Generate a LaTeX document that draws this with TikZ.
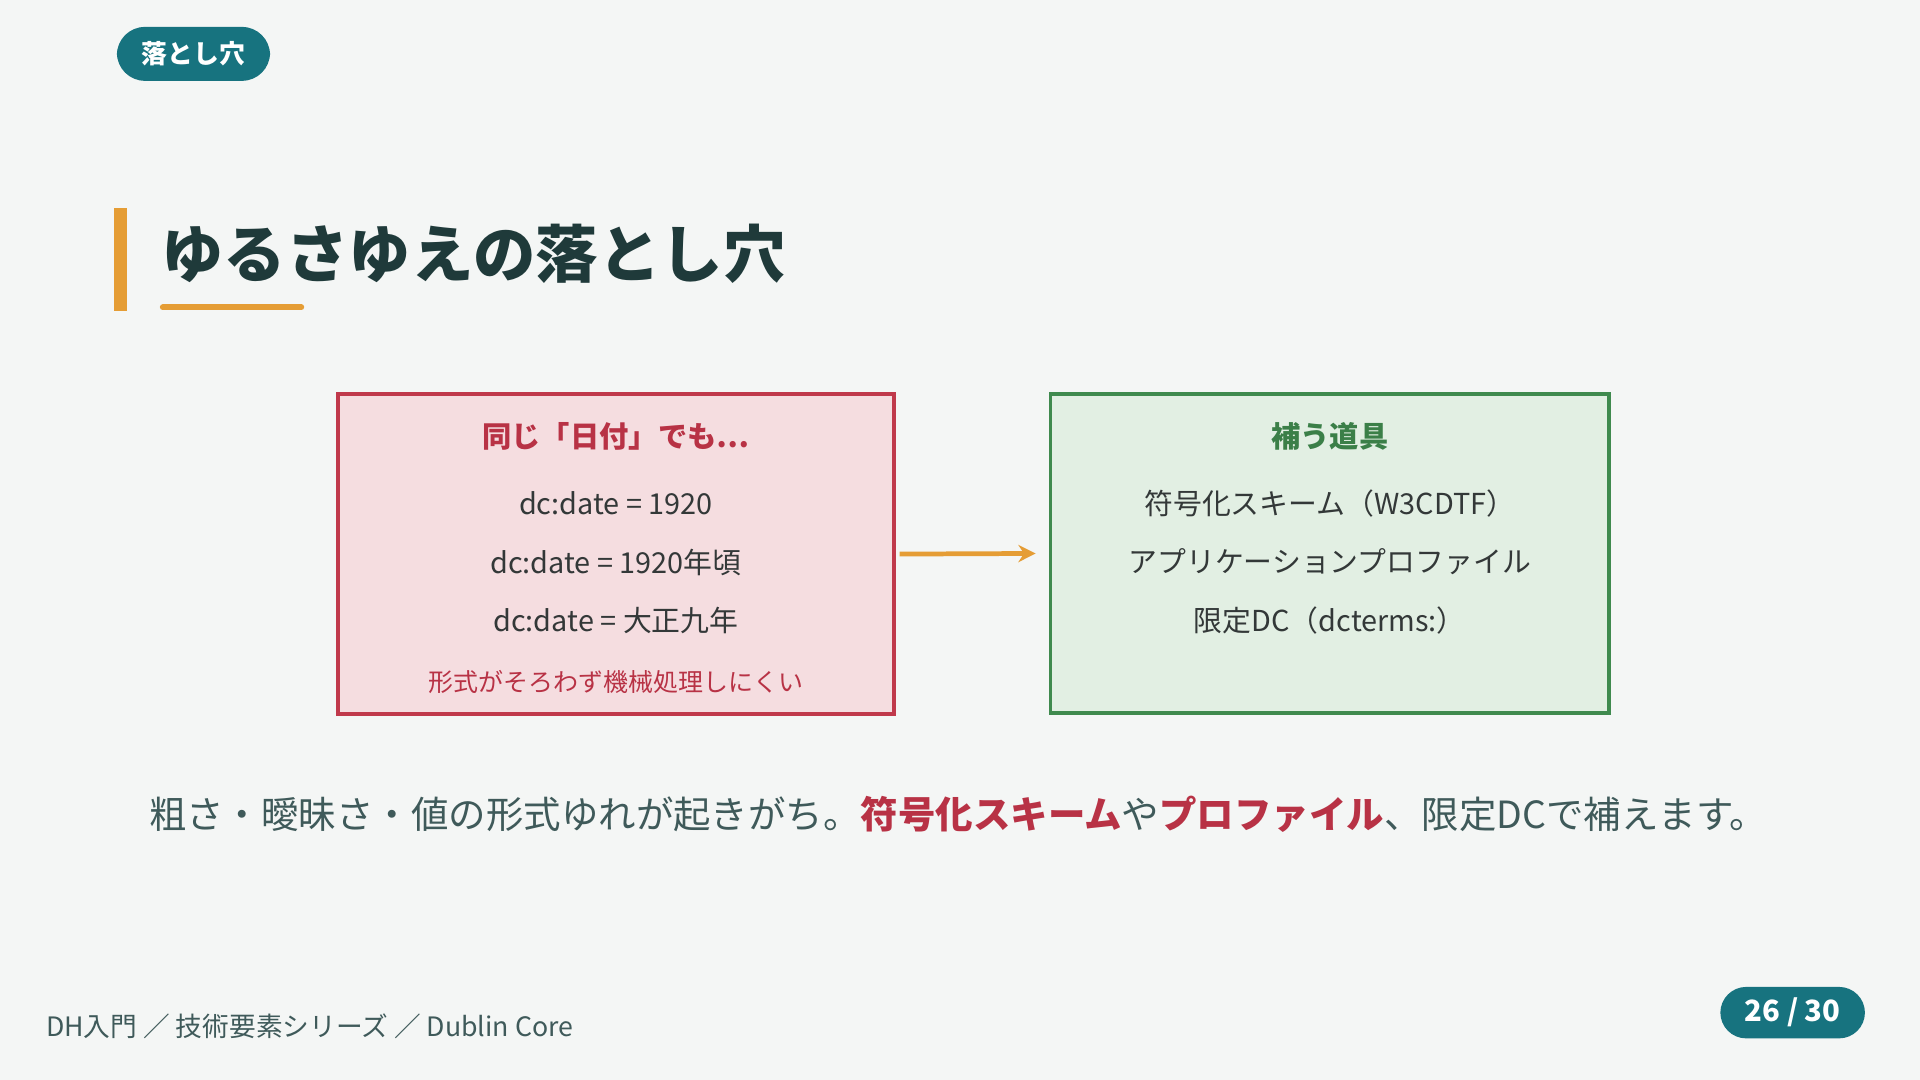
\documentclass[tikz,border=0pt]{standalone}
\usepackage{fontspec}
\setmainfont{Noto Sans CJK JP}
\usetikzlibrary{arrows.meta}
\definecolor{bg}{HTML}{F4F6F5}
\definecolor{teal}{HTML}{17737F}
\definecolor{orng}{HTML}{E59D35}
\definecolor{ink}{HTML}{1F3A3A}
\definecolor{txt}{HTML}{333838}
\definecolor{rd}{HTML}{B83245}
\definecolor{rdfill}{HTML}{F5DDE0}
\definecolor{rddraw}{HTML}{C0394B}
\definecolor{gr}{HTML}{3B7F48}
\definecolor{grfill}{HTML}{E2EFE3}
\definecolor{grdraw}{HTML}{3F8A4E}
\definecolor{foot}{HTML}{3F5A5A}
\tikzset{
 pill/.style={fill=teal,rounded corners=6.5pt,text=white,font=\fontsize{6}{7}\selectfont\bfseries,inner sep=0pt},
 body/.style={text=txt,font=\fontsize{6.7}{7.5}\selectfont},
 boxt/.style={font=\fontsize{6.8}{8}\selectfont\bfseries},
}
\begin{document}
\begin{tikzpicture}[x=0.01cm,y=-0.01cm]
\fill[bg] (0,0) rectangle (1568,882);
\useasboundingbox (0,0) rectangle (1568,882);
\node[pill,minimum width=1.25cm,minimum height=0.44cm] (tag) at (158,44) {落とし穴};
\fill[orng] (93,170) rectangle (104,254);
\draw[orng,line width=1.4pt,line cap=round] (133,251) -- (246,251);
\node[anchor=west,text=ink,font=\fontsize{14.5}{16}\selectfont\bfseries,inner sep=0pt] (title) at (131,207) {ゆるさゆえの落とし穴};
\node[draw=rddraw,fill=rdfill,line width=0.9pt,minimum width=4.54cm,minimum height=2.61cm] (rbox) at (503,452.5) {};
\node[boxt,text=rd] (rt) at (503,356) {同じ「日付」でも…};
\node[body] (r1) at (503,411) {dc:date = 1920};
\node[body] (r2) at (503,459) {dc:date = 1920年頃};
\node[body] (r3) at (503,507) {dc:date = 大正九年};
\node[text=rd,font=\fontsize{5.8}{7}\selectfont] (r4) at (503,557) {形式がそろわず機械処理しにくい};
\node[draw=grdraw,fill=grfill,line width=0.9pt,minimum width=4.56cm,minimum height=2.60cm] (gbox) at (1086,452) {};
\node[boxt,text=gr] (gt) at (1086,356) {補う道具};
\node[body] (g1) at (1086,411) {符号化スキーム（W3CDTF）};
\node[body] (g2) at (1086,459) {アプリケーションプロファイル};
\node[body] (g3) at (1086,507) {限定DC（dcterms:）};
\draw[orng,line width=1.1pt,-{Stealth[length=4pt,width=4pt]}] (rbox.east) ++(3,0) -- ([xshift=-3pt]gbox.west);
\node[anchor=west,inner sep=0pt,text=foot,font=\fontsize{8.7}{9}\selectfont] (sent) at (121,665) {粗さ・曖昧さ・値の形式ゆれが起きがち。\textcolor{rd}{\bfseries 符号化スキーム}や\textcolor{rd}{\bfseries プロファイル}、限定DCで補えます。};
\node[anchor=west,inner sep=0pt,text=foot,font=\fontsize{6.2}{7}\selectfont] (ft) at (37,838) {DH入門 ／ 技術要素シリーズ ／ Dublin Core};
\node[pill,minimum width=1.18cm,minimum height=0.42cm,rounded corners=6pt,font=\fontsize{6.8}{8}\selectfont\bfseries] (pg) at (1464,827) {26 / 30};
\end{tikzpicture}
\end{document}
